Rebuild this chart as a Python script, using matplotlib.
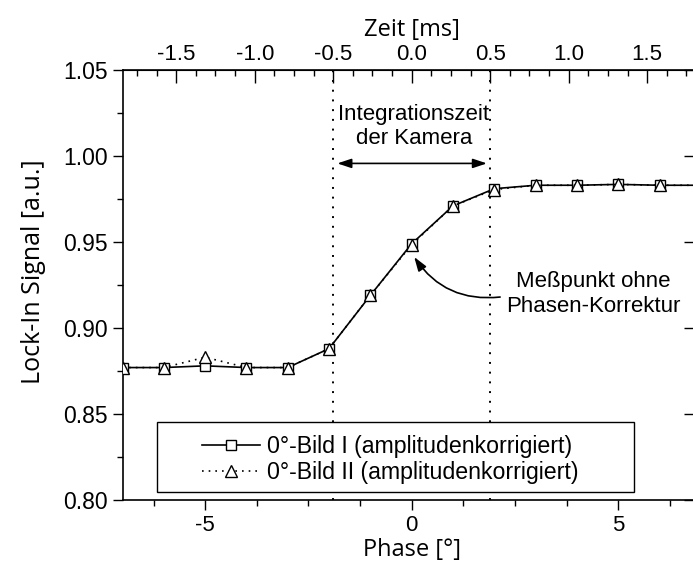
import matplotlib
matplotlib.use('Agg')
import matplotlib.pyplot as plt
from matplotlib.ticker import MultipleLocator, FormatStrFormatter, FixedLocator
from matplotlib.patches import Rectangle

phase = [-7, -6, -5, -4, -3, -2, -1, 0, 1, 2, 3, 4, 5, 6, 7]
bild1 = [0.877, 0.877, 0.878, 0.877, 0.877, 0.888, 0.919, 0.949,
         0.971, 0.981, 0.983, 0.983, 0.9835, 0.983, 0.983]
bild2 = [0.877, 0.877, 0.883, 0.877, 0.877, 0.888, 0.919, 0.9485,
         0.971, 0.9805, 0.983, 0.983, 0.9835, 0.983, 0.983]
labels = ['0°-Bild I (amplitudenkorrigiert)', '0°-Bild II (amplitudenkorrigiert)']

deg_per_ms = 3.8          # Umrechnung Phase <-> Zeit
gate_ms = [-0.5, 0.5]     # Integrationszeit der Kamera
top_ticks = [-1.5, -1.0, -0.5, 0.0, 0.5, 1.0, 1.5]

plt.rcParams['font.family'] = ['Liberation Sans', 'DejaVu Sans']
plt.rcParams['axes.unicode_minus'] = False
label_font = ['Open Sans', 'DejaVu Sans']

fig = plt.figure(figsize=(6.93, 5.67), dpi=100)
ax = fig.add_axes([0.1768, 0.1182, 0.8346, 0.7583])

ax.plot(phase, bild1, '-', color='k', lw=1.2, marker='s', ms=7,
        mfc='white', mec='k', mew=1, label=labels[0], zorder=3)
ax.plot(phase, bild2, ls=(0, (1, 3)), color='k', lw=1.2, marker='^', ms=8,
        mfc='white', mec='k', mew=1, label=labels[1], zorder=3)

for t in gate_ms:
    ax.axvline(t * deg_per_ms, color='k', ls=(0, (1, 4)), lw=1.4, zorder=2)

ax.set_xlim(-7, 7)
ax.set_ylim(0.80, 1.05)
ax.xaxis.set_major_locator(FixedLocator([-5, 0, 5]))
ax.xaxis.set_minor_locator(MultipleLocator(1.25))
ax.yaxis.set_major_locator(MultipleLocator(0.05))
ax.yaxis.set_minor_locator(MultipleLocator(0.025))
ax.yaxis.set_major_formatter(FormatStrFormatter('%.2f'))
ax.tick_params(which='both', direction='out', width=1, labelsize=16)
ax.tick_params(axis='y', labelsize=16.5)
ax.tick_params(which='major', length=7)
ax.tick_params(which='minor', length=4)
for s in ax.spines.values():
    s.set_linewidth(1.2)

ax.set_xlabel('Phase [°]', family=label_font, fontsize=17, labelpad=2)
ax.set_ylabel('Lock-In Signal [a.u.]', family=label_font, fontsize=18)
ax.yaxis.set_label_coords(-0.132, 0.53)

# obere Zeitachse
sec = ax.secondary_xaxis('top', functions=(lambda p: p / deg_per_ms,
                                           lambda t: t * deg_per_ms))
sec.set_xticks(top_ticks)
sec.xaxis.set_major_formatter(FormatStrFormatter('%.1f'))
sec.xaxis.set_minor_locator(MultipleLocator(0.125))
sec.tick_params(which='both', direction='in', width=1, labelsize=16)
sec.tick_params(which='major', length=9)
sec.tick_params(which='minor', length=4.5)
sec.set_xlabel('Zeit [ms]', family=label_font, fontsize=17, labelpad=6)

# rechte Achse nur mit Strichen
sec_r = ax.secondary_yaxis('right')
sec_r.yaxis.set_major_locator(MultipleLocator(0.05))
sec_r.tick_params(which='major', direction='in', length=12, width=1, labelright=False)
sec_r.tick_params(which='minor', length=0)

# Annotationen
ax.annotate('', xy=(gate_ms[0] * deg_per_ms + 0.1, 0.9957),
            xytext=(gate_ms[1] * deg_per_ms - 0.08, 0.9957),
            arrowprops=dict(arrowstyle='<|-|>,head_length=0.6,head_width=0.2',
                            color='k', lw=1.2, mutation_scale=14,
                            shrinkA=0, shrinkB=0))
ax.text(0.05, 1.0172, 'Integrationszeit\nder Kamera', ha='center', va='center',
        fontsize=16, linespacing=1.15)
ax.text(4.39, 0.9198, 'Meßpunkt ohne\nPhasen-Korrektur', ha='center', va='center',
        fontsize=16, linespacing=1.2)
ax.annotate('', xy=(0.06, 0.9413), xytext=(2.14, 0.918),
            arrowprops=dict(arrowstyle='-|>,head_length=0.6,head_width=0.2',
                            color='k', lw=1.2, mutation_scale=14,
                            shrinkA=0, shrinkB=0,
                            connectionstyle='arc3,rad=-0.3'))

# Legende
ax.add_patch(Rectangle((0.0596, 0.0186), 0.8247, 0.163, transform=ax.transAxes,
                       facecolor='white', edgecolor='k', lw=1, zorder=4))
leg = ax.legend(loc='center', bbox_to_anchor=(0.463, 0.094), frameon=False,
                fontsize=16.7, handlelength=2.5, handletextpad=0.3,
                labelspacing=0.12, numpoints=1)
leg.set_zorder(5)

fig.savefig('out.png', dpi=100)
